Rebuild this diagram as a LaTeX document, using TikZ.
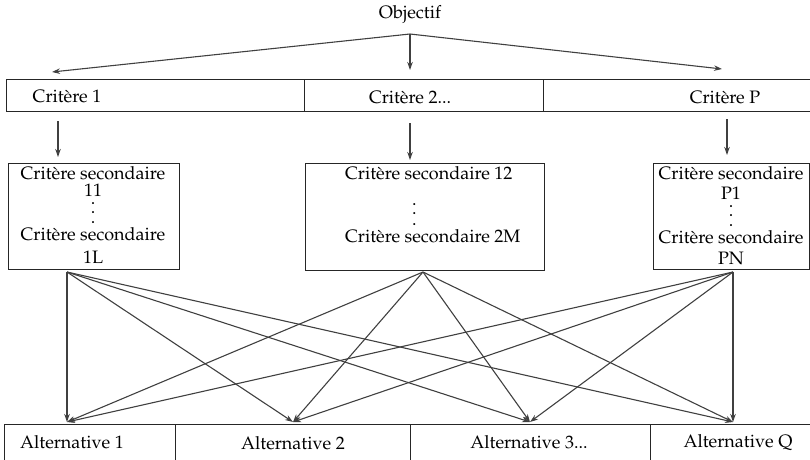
\documentclass[tikz,border=0pt]{standalone}
\usepackage[T1]{fontenc}
\usepackage{mathpazo}
\usetikzlibrary{arrows.meta}
\newcommand{\stackfnt}{\fontsize{18}{8}\selectfont\lineskiplimit=-100pt\relax\lineskip=0pt\relax}
\tikzset{
  lbl/.style={font=\fontsize{18}{20}\selectfont, inner sep=0pt, text=black},
  stack/.style={font=\stackfnt, inner sep=0pt, text=black},
  boxline/.style={draw=black!85, line width=1pt},
  arr/.style={draw=black!75, line width=1.1pt, -{Stealth[length=8pt,width=5.5pt]}},
}
\begin{document}
\begin{tikzpicture}[x=1pt,y=-1pt]
\useasboundingbox (0,0) rectangle (810,459);
% Objectif
\node[lbl] (obj) at (410,15) {Objectif};
\coordinate (o) at (410,34);
% criteria row
\draw[boxline] (6,79) rectangle (812,111);
\draw[boxline] (304,79) -- (304,111);
\draw[boxline] (543,79) -- (543,111);
\node[lbl] (c1) at (67,96) {Critère 1};
\node[lbl] (c2) at (410,97) {Critère 2...};
\node[lbl] (cp) at (725,97) {Critère P};
\coordinate (t1) at (52,72);
\coordinate (t2) at (410,70);
\coordinate (t3) at (722,69);
\draw[arr] (o) -- (t1);
\draw[arr] (o) -- (t2);
\draw[arr] (o) -- (t3);
% down arrows
\coordinate (d1a) at (58,121); \coordinate (d1b) at (58,157);
\coordinate (d2a) at (410,123); \coordinate (d2b) at (410,160);
\coordinate (d3a) at (727,119); \coordinate (d3b) at (727,155);
\draw[arr] (d1a) -- (d1b);
\draw[arr] (d2a) -- (d2b);
\draw[arr] (d3a) -- (d3b);
% secondary boxes
\node[boxline, minimum width=171pt, minimum height=106pt, inner sep=0pt] (s1) at (93.5,216) {};
\node[boxline, minimum width=239pt, minimum height=107pt, inner sep=0pt] (s2) at (424.5,216.5) {};
\node[boxline, minimum width=156pt, minimum height=106pt, inner sep=0pt] (s3) at (731,216) {};
% texts
\node[stack, align=center, anchor=north] (s1t) at (93,166.5)
  {Critère secondaire\\[8.5pt]11\\[0pt].\\[1pt].\\[2pt].\\[9.5pt]Critère secondaire\\[14.5pt]1L};
\node[stack, align=left, anchor=north west] (s2t) at (345,166.5)
  {Critère secondaire 12\\[17.5pt]\hspace*{67pt}.\\[1pt]\hspace*{67pt}.\\[3pt]\hspace*{67pt}.\\[9.5pt]Critère secondaire 2M};
\node[stack, align=center, anchor=north] (s3t) at (731,166.5)
  {Critère secondaire\\[11.5pt]P1\\[0pt].\\[1pt].\\[2pt].\\[9.5pt]Critère secondaire\\[12.5pt]PN};
% alternatives row
\draw[boxline] (4,424) rectangle (812,462);
\draw[boxline] (175,424) -- (175,462);
\draw[boxline] (410,424) -- (410,462);
\draw[boxline] (650,424) -- (650,462);
\node[lbl] (a1) at (72,442) {Alternative 1};
\node[lbl] (a2) at (293,443) {Alternative 2};
\node[lbl] (a3) at (529,442) {Alternative 3...};
\node[lbl] (aq) at (738,443) {Alternative Q};
% fan
\coordinate (f1) at (67,272);
\coordinate (f2) at (423,272);
\coordinate (f3) at (733,272);
\coordinate (g1) at (67,422);
\coordinate (g2) at (293,422);
\coordinate (g3) at (530,422);
\coordinate (g4) at (733,422);
\foreach \s in {f1,f2,f3}{
  \foreach \t in {g1,g2,g3,g4}{
    \draw[arr] (\s) -- (\t);
  }
}
\end{tikzpicture}
\end{document}
